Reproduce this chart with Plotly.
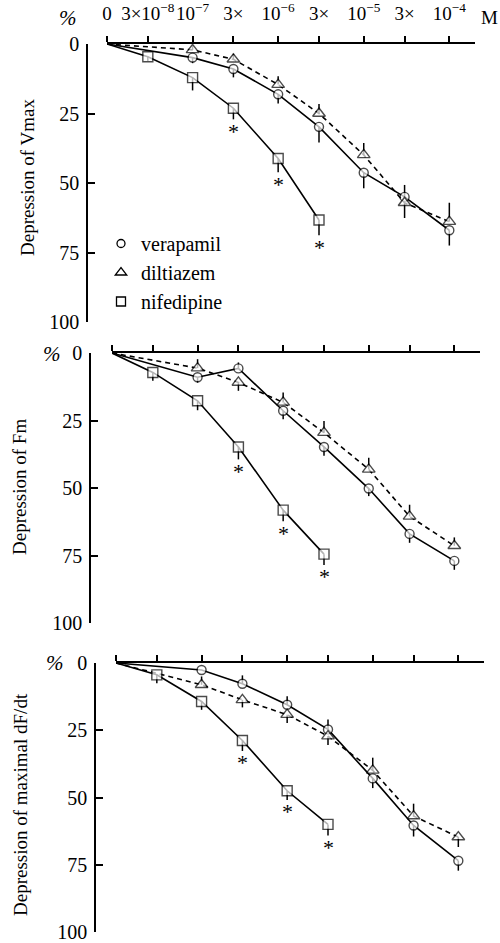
import math
import plotly.graph_objects as go

W, H = 500, 943

# ---------------- data ----------------
conc = [0, 3e-8, 1e-7, 3e-7, 1e-6, 3e-6, 1e-5, 3e-5, 1e-4]
tick_text = ["0", "3×10<sup>−8</sup>", "10<sup>−7</sup>", "3×", "10<sup>−6</sup>",
             "3×", "10<sup>−5</sup>", "3×", "10<sup>−4</sup>"]
ZERO_POS = 1e-8  # broken-axis position where the control (0 M) is drawn

drugs = ["verapamil", "diltiazem", "nifedipine"]
panel_titles = ["Depression of Vmax", "Depression of Fm", "Depression of maximal dF/dt"]

# depression (%) ; None = not measured
vmax_verapamil = [0, None, 4.9, 9.0, 18.1, 29.8, 46.3, 55.0, 67.0]
vmax_diltiazem = [0, None, 2.1, 5.5, 14.6, 25.0, 39.9, 57.1, 63.9]
vmax_nifedipine = [0, 4.6, 12.1, 23.1, 41.2, 63.3]
# error bars: positive = drawn downward (more depression), negative = upward
vmax_verapamil_err = [0, None, 2.0, 3.0, 3.3, 5.6, 5.6, -4.3, 5.5]
vmax_diltiazem_err = [0, None, -1.5, -2.0, -3.0, -3.4, -4.3, 5.5, -6.8]
vmax_nifedipine_err = [0, 1.5, 4.6, 4.0, 4.9, 5.5]
vmax_sig = [False, False, False, True, True, True]

fm_verapamil = [0, None, 9.0, 5.7, 21.4, 34.8, 50.2, 67.0, 77.0]
fm_diltiazem = [0, None, 5.6, 10.9, 18.3, 29.5, 43.1, 60.5, 71.4]
fm_nifedipine = [0, 7.2, 17.7, 34.8, 58.2, 74.5]
fm_verapamil_err = [0, None, 2.0, -2.2, 3.1, 3.3, 2.8, 3.3, 3.3]
fm_diltiazem_err = [0, None, -3.3, 3.1, -3.7, -4.3, -4.3, -4.3, -3.1]
fm_nifedipine_err = [0, 3.1, 3.5, 4.6, 4.1, 4.0]
fm_sig = [False, False, False, True, True, True]

df_verapamil = [0, None, 2.6, 7.7, 15.5, 24.7, 42.9, 60.4, 73.5]
df_diltiazem = [0, None, 8.1, 13.7, 19.2, 27.2, 39.9, 56.9, 64.7]
df_nifedipine = [0, 4.4, 14.3, 28.8, 47.5, 60.0]
df_verapamil_err = [0, None, 0, -3.1, -3.1, -3.7, 3.6, 4.1, 3.7]
df_diltiazem_err = [0, None, -3.1, 2.8, 3.1, 3.3, -4.7, -4.6, 3.7]
df_nifedipine_err = [0, 3.1, 3.1, 3.9, 3.4, 4.1]
df_sig = [False, False, False, True, True, True]

panels = [
    (vmax_verapamil, vmax_diltiazem, vmax_nifedipine,
     vmax_verapamil_err, vmax_diltiazem_err, vmax_nifedipine_err, vmax_sig),
    (fm_verapamil, fm_diltiazem, fm_nifedipine,
     fm_verapamil_err, fm_diltiazem_err, fm_nifedipine_err, fm_sig),
    (df_verapamil, df_diltiazem, df_nifedipine,
     df_verapamil_err, df_diltiazem_err, df_nifedipine_err, df_sig),
]

# ---------------- layout geometry (pixels) ----------------
# (x of 0-position, x of axis end, y of 0 %, y of 100 %, x of y-axis line)
geom = [
    (107, 475, 44, 322, 87),
    (112, 480, 353, 623, 90),
    (116, 484, 663, 932, 95),
]
XRANGE = [-8, -3.7]

FONT = "Liberation Serif, Times New Roman, serif"
BLACK = "black"

styles = {
    "verapamil": dict(symbol="circle", size=9, dash="solid"),
    "diltiazem": dict(symbol="triangle-up", size=11, dash="5px,4px"),
    "nifedipine": dict(symbol="square", size=10, dash="solid"),
}

xpos = [ZERO_POS if c == 0 else c for c in conc]

fig = go.Figure()
layout = dict(
    width=W, height=H,
    margin=dict(l=0, r=0, t=0, b=0, autoexpand=False),
    paper_bgcolor="white", plot_bgcolor="rgba(0,0,0,0)",
    font=dict(family=FONT, size=18, color=BLACK),
    showlegend=True,
)
annotations = []

for i, (ver, dil, nif, ver_e, dil_e, nif_e, sig) in enumerate(panels):
    n = i + 1
    xa = "x" if n == 1 else f"x{n}"
    ya = "y" if n == 1 else f"y{n}"
    x0, x1, y0, y100, yx = geom[i]

    for name, vals, errs in (("verapamil", ver, ver_e),
                             ("diltiazem", dil, dil_e),
                             ("nifedipine", nif, nif_e)):
        st = styles[name]
        xs = [xpos[k] for k in range(len(vals)) if vals[k] is not None]
        ys = [v for v in vals if v is not None]
        es = [e for v, e in zip(vals, errs) if v is not None]
        cs = [c for c, v in zip(conc, vals) if v is not None]
        sizes = [0 if c == 0 else st["size"] for c in cs]
        fig.add_trace(go.Scatter(
            x=xs, y=ys, xaxis=xa, yaxis=ya, mode="lines+markers",
            line=dict(color=BLACK, width=1.6, dash=st["dash"]),
            marker=dict(symbol=st["symbol"], size=sizes, color="white",
                        line=dict(width=1.4, color=BLACK)),
            error_y=dict(type="data", symmetric=False,
                         array=[max(e, 0) for e in es],
                         arrayminus=[max(-e, 0) for e in es],
                         width=0, thickness=1.5, color=BLACK),
            showlegend=False, hoverinfo="skip",
        ))
    # significance asterisks under nifedipine (below end of error bar)
    for k in range(len(nif)):
        if sig[k]:
            annotations.append(dict(
                text="*", xref=xa, yref=ya,
                x=math.log10(xpos[k]), y=nif[k] + max(nif_e[k], 0),
                showarrow=False, xanchor="center", yanchor="middle",
                yshift=-12,
                font=dict(family=FONT, size=22, color=BLACK),
            ))

    xd = [x0 / W, x1 / W]
    yd = [1 - y100 / H, 1 - y0 / H]
    xkey = "xaxis" if n == 1 else f"xaxis{n}"
    ykey = "yaxis" if n == 1 else f"yaxis{n}"
    layout[xkey] = dict(
        type="log", range=XRANGE, domain=xd, anchor=ya, side="top",
        showline=True, linecolor=BLACK, linewidth=1.5,
        ticks="outside", ticklen=6, tickwidth=1.5, tickcolor=BLACK,
        tickvals=xpos, ticktext=tick_text, showticklabels=(n == 1),
        tickangle=0, automargin=False, ticklabeloverflow="allow",
        tickfont=dict(family=FONT, size=19, color=BLACK),
        ticklabelstandoff=9,
        showgrid=False, zeroline=False, fixedrange=True,
    )
    layout[ykey] = dict(
        range=[100, 0], domain=yd, anchor="free", position=yx / W, side="left",
        showline=True, linecolor=BLACK, linewidth=1.5,
        ticks="inside", ticklen=7, tickwidth=1.5, tickcolor=BLACK,
        tickvals=[0, 25, 50, 75, 100], automargin=False,
        ticklabeloverflow="allow",
        tickfont=dict(family=FONT, size=20, color=BLACK),
        ticklabelstandoff=3,
        showgrid=False, zeroline=False, fixedrange=True,
    )
    # y-axis title
    annotations.append(dict(
        text=panel_titles[i], xref="paper", yref="paper",
        x=[27, 19, 20][i] / W, y=1 - [178, 487, 805][i] / H,
        textangle=-90, showarrow=False,
        font=dict(family=FONT, size=19, color=BLACK),
        xanchor="center", yanchor="middle",
    ))

# legend entries (markers only)
for name in drugs:
    st = styles[name]
    fig.add_trace(go.Scatter(
        x=[None], y=[None], mode="markers", name=name,
        marker=dict(symbol=st["symbol"], size=st["size"] - 1, color="white",
                    line=dict(width=1.3, color=BLACK)),
    ))

layout["legend"] = dict(
    x=101 / W, y=1 - 224 / H, xanchor="left", yanchor="top",
    font=dict(family=FONT, size=20, color=BLACK),
    bgcolor="rgba(0,0,0,0)", borderwidth=0, tracegroupgap=0,
)

# percent signs and unit
for (px, py, sz) in ((68, 18, 21), (52, 354, 21), (55, 663, 21)):
    annotations.append(dict(
        text="<i>%</i>", xref="paper", yref="paper", x=px / W, y=1 - py / H,
        showarrow=False, font=dict(family=FONT, size=sz, color=BLACK),
        xanchor="center", yanchor="middle",
    ))
annotations.append(dict(
    text="M", xref="paper", yref="paper", x=489 / W, y=1 - 18 / H,
    showarrow=False, font=dict(family=FONT, size=19, color=BLACK),
    xanchor="center", yanchor="middle",
))
layout["annotations"] = annotations

fig.update_layout(**layout)
fig.write_html("out.html")
